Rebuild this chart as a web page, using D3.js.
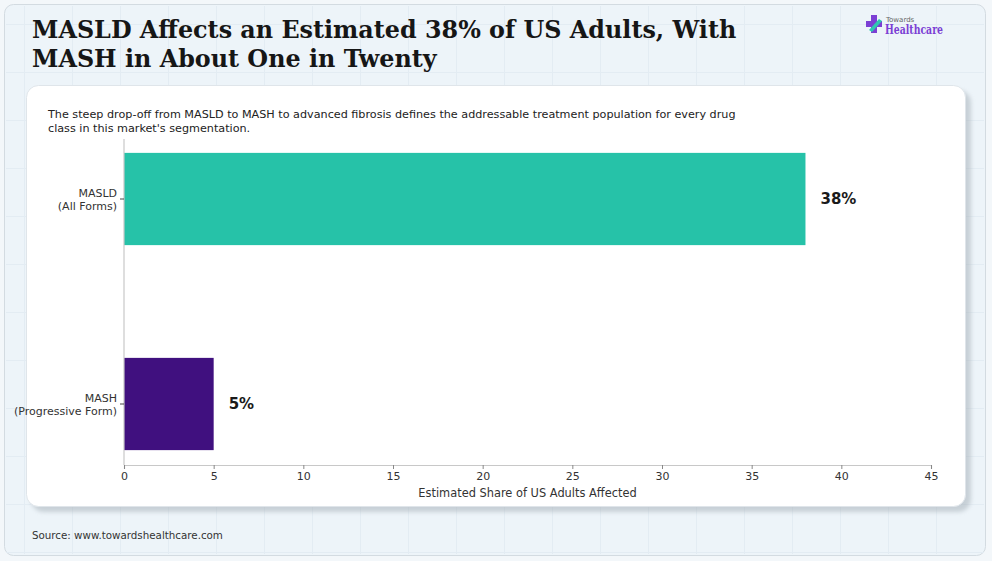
<!DOCTYPE html>
<html>
<head>
<meta charset="utf-8">
<script src="https://cdn.jsdelivr.net/npm/d3@7"></script>
<style>
  body { margin: 0; background: #f4f8fb; }
  svg { display: block; }
</style>
</head>
<body>
<div id="chart"></div>
<script>
const categories = ["MASLD\n(All Forms)", "MASH\n(Progressive Form)"];
const values = [38, 5];
const valueLabels = ["38%", "5%"];
const barColors = ["#26c2a8", "#40107f"];
const xTicks = [0, 5, 10, 15, 20, 25, 30, 35, 40, 45];

const width = 992;
const height = 561;

const svg = d3.select("#chart")
  .append("svg")
  .attr("width", width)
  .attr("height", height);

// page background + faint grid
svg.append("rect").attr("width", width).attr("height", height).attr("fill", "#f3f7fa");
svg.append("rect")
  .attr("x", 4.5).attr("y", 4.5).attr("width", 981).attr("height", 551)
  .attr("rx", 9).attr("fill", "#edf4f9").attr("stroke", "#d3dbe1");

const grid = svg.append("g").attr("stroke", "#e3ecf3").attr("stroke-width", 1);
d3.range(24, 980, 48).forEach(x => {
  grid.append("line").attr("x1", x + 0.5).attr("x2", x + 0.5).attr("y1", 6).attr("y2", 554);
});
d3.range(24, 556, 48).forEach(y => {
  grid.append("line").attr("x1", 6).attr("x2", 984).attr("y1", y + 0.5).attr("y2", y + 0.5);
});

// title
const title = svg.append("text")
  .attr("x", 32)
  .attr("font-family", "DejaVu Serif")
  .attr("font-weight", "bold")
  .attr("font-size", 23.85)
  .attr("fill", "#161616");
title.append("tspan").attr("x", 32).attr("y", 38).text("MASLD Affects an Estimated 38% of US Adults, With");
title.append("tspan").attr("x", 32).attr("y", 67).text("MASH in About One in Twenty");

// logo
const logo = svg.append("g").attr("transform", "translate(866,15)");
logo.append("rect").attr("x", 5).attr("y", 0).attr("width", 6).attr("height", 18).attr("fill", "#7b3fd4");
logo.append("rect").attr("x", 0).attr("y", 6).attr("width", 16).attr("height", 6).attr("fill", "#7b3fd4");
logo.append("path").attr("d", "M3,15 L13,4 L16,6 L6,17 Z").attr("fill", "#2fc7b0");
logo.append("text").attr("x", 20).attr("y", 7).attr("font-family", "DejaVu Sans")
  .attr("font-size", 7).attr("fill", "#666").text("Towards");
logo.append("text").attr("x", 19).attr("y", 19).attr("font-family", "DejaVu Serif")
  .attr("font-weight", "bold").attr("font-size", 12).attr("fill", "#7b3fd4")
  .attr("textLength", 58).attr("lengthAdjust", "spacingAndGlyphs").text("Healthcare");

// card
const defs = svg.append("defs");
const f = defs.append("filter").attr("id", "shadow").attr("x", "-5%").attr("y", "-5%").attr("width", "110%").attr("height", "115%");
f.append("feDropShadow").attr("dx", 5).attr("dy", 5).attr("stdDeviation", 2).attr("flood-color", "#9aa5ad").attr("flood-opacity", 0.45);
svg.append("rect")
  .attr("x", 26.5).attr("y", 85.5).attr("width", 939).attr("height", 421)
  .attr("rx", 12).attr("fill", "#ffffff").attr("stroke", "#dfe5ea")
  .attr("filter", "url(#shadow)");

// subtitle
const sub = svg.append("text")
  .attr("font-family", "DejaVu Sans").attr("font-size", 11.2).attr("fill", "#222");
sub.append("tspan").attr("x", 48).attr("y", 118)
  .text("The steep drop-off from MASLD to MASH to advanced fibrosis defines the addressable treatment population for every drug");
sub.append("tspan").attr("x", 48).attr("y", 132).text("class in this market's segmentation.");

// scales
const x = d3.scaleLinear().domain([0, 45]).range([124, 931]);
const y = d3.scaleBand().domain(categories).range([96.5, 506.5]).paddingInner(0.55).paddingOuter(0.275);
const axisY = 465;

svg.append("g").selectAll("rect")
  .data(values)
  .join("rect")
  .attr("x", x(0))
  .attr("y", (d, i) => y(categories[i]))
  .attr("width", d => x(d) - x(0))
  .attr("height", y.bandwidth())
  .attr("fill", (d, i) => barColors[i]);

svg.append("g").selectAll("text")
  .data(values)
  .join("text")
  .attr("x", d => x(d) + 15)
  .attr("y", (d, i) => y(categories[i]) + y.bandwidth() / 2 + 5)
  .attr("font-family", "DejaVu Sans").attr("font-weight", "bold")
  .attr("font-size", 15).attr("fill", "#1a1a1a")
  .text((d, i) => valueLabels[i]);

// left spine + category ticks
svg.append("line").attr("x1", x(0)).attr("x2", x(0)).attr("y1", 139).attr("y2", axisY)
  .attr("stroke", "#c8c8c8").attr("stroke-width", 1.2);
const yl = svg.append("g");
categories.forEach(c => {
  const cy = y(c) + y.bandwidth() / 2;
  yl.append("line").attr("x1", x(0) - 4).attr("x2", x(0)).attr("y1", cy).attr("y2", cy).attr("stroke", "#444");
  const t = yl.append("text").attr("text-anchor", "end").attr("font-family", "DejaVu Sans")
    .attr("font-size", 11).attr("fill", "#333");
  c.split("\n").forEach((line, i) => {
    t.append("tspan").attr("x", x(0) - 7).attr("y", cy - 2 + i * 13).text(line);
  });
});

// bottom axis
const xAxis = svg.append("g")
  .attr("transform", `translate(0,${axisY})`)
  .call(d3.axisBottom(x).tickValues(xTicks).tickSize(4).tickPadding(3));
xAxis.select(".domain").attr("stroke", "#c8c8c8").attr("stroke-width", 1.2);
xAxis.selectAll(".tick line").attr("stroke", "#888");
xAxis.selectAll(".tick text").attr("font-family", "DejaVu Sans").attr("font-size", 11).attr("fill", "#333");

svg.append("text")
  .attr("x", (x(0) + x(45)) / 2).attr("y", 497)
  .attr("text-anchor", "middle").attr("font-family", "DejaVu Sans")
  .attr("font-size", 11.4).attr("fill", "#333")
  .text("Estimated Share of US Adults Affected");

// source
svg.append("text")
  .attr("x", 32).attr("y", 539)
  .attr("font-family", "DejaVu Sans").attr("font-size", 10.3).attr("fill", "#333")
  .text("Source: www.towardshealthcare.com");
</script>
</body>
</html>
